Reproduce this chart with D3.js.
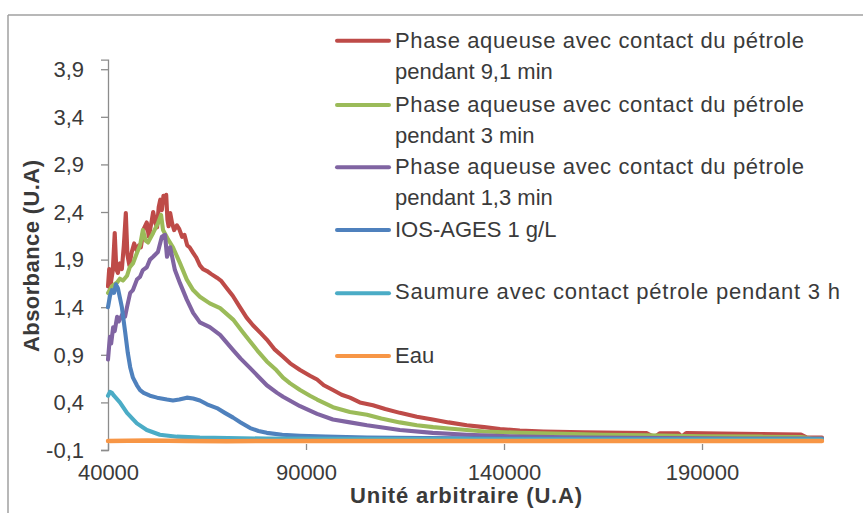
<!DOCTYPE html>
<html><head><meta charset="utf-8">
<script src="https://cdn.jsdelivr.net/npm/d3@7"></script>
<style>
html,body{margin:0;padding:0;background:#fff;}
svg{display:block;}
text{font-family:"Liberation Sans",Arial,sans-serif;fill:#3a3a3a;}
</style></head>
<body>
<svg id="chart" width="863" height="513"></svg>
<script>
// ---------- data ----------
const xTicks = [40000, 90000, 140000, 190000];
const yTicks = [-0.1, 0.4, 0.9, 1.4, 1.9, 2.4, 2.9, 3.4, 3.9];

const seriesNames = [
  ["Phase aqueuse avec contact du pétrole", "pendant 9,1 min"],
  ["Phase aqueuse avec contact du pétrole", "pendant 3 min"],
  ["Phase aqueuse avec contact du pétrole", "pendant 1,3 min"],
  ["IOS-AGES 1 g/L"],
  ["Saumure avec contact pétrole pendant 3 h"],
  ["Eau"]
];
const seriesColors = ["#BE4B48", "#9BBB59", "#8064A2", "#4F81BD", "#4BACC6", "#F79646"];

const phase91 = [[40000,1.62],[40300,1.80],[40700,1.65],[41200,1.78],[41700,2.18],[42100,1.80],[42500,1.76],[43000,1.86],[43500,1.80],[44000,2.05],[44500,2.39],[44900,1.95],[45400,1.84],[46000,1.98],[46600,2.07],[47200,2.00],[47800,2.05],[48300,2.03],[49000,2.22],[49800,2.29],[50300,2.14],[51000,2.30],[51400,2.40],[52000,2.28],[52400,2.24],[52800,2.45],[53200,2.53],[53600,2.42],[54000,2.57],[54400,2.50],[54700,2.58],[55000,2.32],[55300,2.25],[55700,2.39],[56200,2.28],[56700,2.21],[57400,2.26],[58000,2.22],[58700,2.14],[59300,2.16],[60000,2.05],[60600,2.03],[61500,1.97],[62300,1.92],[63200,1.84],[64000,1.80],[65000,1.78],[66000,1.75],[67500,1.71],[68500,1.68],[70000,1.60],[71500,1.52],[73300,1.40],[75000,1.29],[76600,1.21],[78500,1.13],[80100,1.06],[82000,0.96],[84200,0.88],[86000,0.81],[88500,0.74],[91000,0.68],[92800,0.64],[94500,0.58],[96800,0.53],[99000,0.48],[101100,0.45],[103600,0.40],[106900,0.37],[110000,0.33],[113700,0.29],[118000,0.25],[122000,0.22],[126000,0.19],[130600,0.16],[135000,0.14],[139000,0.12],[144000,0.105],[150000,0.095],[160000,0.085],[170000,0.08],[176000,0.078],[177300,0.05],[178200,0.04],[179300,0.075],[184000,0.075],[184900,0.04],[186000,0.078],[195000,0.072],[205000,0.067],[215000,0.062],[216500,0.03],[220300,0.03]];

const phase3 = [[40000,1.55],[41000,1.62],[42300,1.66],[43000,1.70],[43800,1.68],[44800,1.73],[45500,1.82],[46300,1.86],[47300,1.97],[48100,2.05],[48800,2.21],[49500,2.10],[50100,2.08],[51400,2.18],[52600,2.28],[53400,2.37],[53900,2.21],[55200,2.11],[56400,2.03],[58200,1.86],[59900,1.69],[61500,1.58],[63200,1.51],[65700,1.44],[68300,1.39],[71600,1.27],[74000,1.14],[75900,1.04],[78000,0.93],[80100,0.83],[82500,0.74],[84200,0.66],[86000,0.60],[88500,0.53],[91000,0.47],[92800,0.43],[96800,0.35],[101100,0.30],[105400,0.27],[109000,0.23],[113700,0.19],[118000,0.16],[122100,0.14],[126000,0.125],[130600,0.11],[135000,0.095],[144000,0.08],[155000,0.07],[165000,0.06],[176000,0.055],[190000,0.045],[205000,0.04],[215000,0.035],[218000,0.02],[220300,0.02]];

const phase13 = [[40000,0.85],[40300,1.00],[40500,1.09],[40800,1.02],[41300,1.19],[41700,1.15],[42300,1.30],[42700,1.25],[43800,1.34],[44300,1.30],[44800,1.40],[45600,1.55],[46300,1.58],[47300,1.69],[48100,1.72],[48800,1.79],[49800,1.82],[50600,1.90],[51400,1.93],[52600,1.98],[53600,2.14],[54400,2.16],[54900,1.93],[55700,2.03],[56900,1.79],[58200,1.65],[59900,1.48],[61500,1.34],[63200,1.24],[65700,1.19],[68300,1.11],[71600,0.95],[73500,0.86],[75900,0.76],[78000,0.67],[80100,0.58],[82700,0.50],[84200,0.46],[88500,0.36],[92800,0.28],[96800,0.22],[101100,0.19],[105400,0.16],[113700,0.11],[122000,0.08],[130600,0.06],[144000,0.04],[160000,0.03],[180000,0.025],[200000,0.02],[220300,0.02]];

const iosAges = [[40000,1.40],[40500,1.52],[41000,1.58],[41500,1.55],[42000,1.64],[42500,1.60],[43000,1.50],[43500,1.40],[44300,1.15],[45000,0.92],[45600,0.77],[46300,0.66],[47300,0.58],[48100,0.53],[49000,0.50],[50600,0.47],[52400,0.45],[54900,0.43],[56400,0.42],[58000,0.43],[59900,0.45],[61500,0.44],[63200,0.42],[65000,0.38],[67500,0.34],[69500,0.29],[71600,0.24],[73500,0.19],[75900,0.13],[78000,0.10],[80100,0.08],[84000,0.06],[88500,0.05],[95000,0.04],[105400,0.03],[120000,0.025],[150000,0.02],[190000,0.015],[220300,0.015]];

const saumure = [[40000,0.47],[40500,0.51],[41000,0.50],[41500,0.47],[43000,0.40],[44800,0.29],[47300,0.18],[49800,0.11],[53100,0.06],[57400,0.04],[63200,0.03],[80000,0.02],[120000,0.015],[170000,0.01],[220300,0.01]];

const eau = [[40000,-0.005],[50000,0.0],[60000,-0.005],[70000,-0.008],[80000,-0.005],[100000,-0.006],[120000,-0.005],[140000,-0.006],[160000,-0.005],[180000,-0.006],[200000,-0.005],[220300,-0.005]];

const seriesData = [phase91, phase3, phase13, iosAges, saumure, eau];

// ---------- layout ----------
const svg = d3.select("#chart");
const x = d3.scaleLinear().domain([40000, 220300]).range([108, 822]);
const y = d3.scaleLinear().domain([-0.1, 4.0]).range([450, 59.7]);
const loc = d3.formatLocale({decimal: ",", thousands: "", grouping: [3], currency: ["", ""], minus: "-"});
const fmtY = loc.format(".1f");
const fmtX = loc.format("d");

// chart frame (top + left visible)
svg.append("line").attr("x1", 8).attr("x2", 863).attr("y1", 15).attr("y2", 15)
  .attr("stroke", "#A0A0A0").attr("stroke-width", 1.5);
svg.append("line").attr("x1", 8).attr("x2", 8).attr("y1", 15).attr("y2", 513)
  .attr("stroke", "#A0A0A0").attr("stroke-width", 1.5);

// y axis
const yAxis = svg.append("g").attr("transform", "translate(108,0)")
  .call(d3.axisLeft(y).tickValues(yTicks).tickFormat(fmtY).tickSize(7).tickPadding(17));
yAxis.select(".domain").attr("stroke", "#8C8C8C").attr("stroke-width", 1.3);
yAxis.selectAll(".tick line").attr("stroke", "#8C8C8C").attr("stroke-width", 1.3);
yAxis.selectAll(".tick text").attr("font-size", 22).attr("fill", "#3a3a3a")
  .attr("font-family", '"Liberation Sans",Arial,sans-serif').attr("dy", "0.33em");

// x axis (ticks only, no line)
const xAxis = svg.append("g").attr("transform", "translate(0,450)")
  .call(d3.axisBottom(x).tickValues(xTicks).tickFormat(fmtX).tickSizeInner(-6).tickSizeOuter(0).tickPadding(14));
xAxis.select(".domain").remove();
xAxis.selectAll(".tick line").attr("stroke", "#8C8C8C").attr("stroke-width", 1.3);
xAxis.selectAll(".tick text").attr("font-size", 22).attr("fill", "#3a3a3a")
  .attr("font-family", '"Liberation Sans",Arial,sans-serif').attr("dy", "0.72em");

// axis titles
svg.append("text").attr("x", 466).attr("y", 503).attr("text-anchor", "middle")
  .attr("font-size", 22).attr("font-weight", "bold").attr("textLength", 232).attr("lengthAdjust", "spacing")
  .text("Unité arbitraire (U.A)");
svg.append("text").attr("transform", "translate(39,256) rotate(-90)").attr("text-anchor", "middle")
  .attr("font-size", 22).attr("font-weight", "bold").attr("textLength", 192).attr("lengthAdjust", "spacing")
  .text("Absorbance (U.A)");

// series
const line = d3.line().x(d => x(d[0])).y(d => y(d[1]));
const plot = svg.append("g");
seriesData.forEach((data, i) => {
  plot.append("path").datum(data).attr("d", line)
    .attr("fill", "none").attr("stroke", seriesColors[i])
    .attr("stroke-width", i === 5 ? 4.4 : 4.1).attr("stroke-linejoin", "round").attr("stroke-linecap", "round");
});

// legend
const legendLineY = [40.7, 105, 167.3, 230, 293.3, 356];
const legendBase = [[48.3, 79.3], [111.7, 142.7], [174, 205], [236.7], [299.3], [362.7]];
const legendWidths = {"Phase aqueuse avec contact du pétrole": 409, "Saumure avec contact pétrole pendant 3 h": 445};
const lg = svg.append("g");
seriesNames.forEach((lines, i) => {
  lg.append("line").attr("x1", 337).attr("x2", 389)
    .attr("y1", legendLineY[i]).attr("y2", legendLineY[i])
    .attr("stroke", seriesColors[i]).attr("stroke-width", 4).attr("stroke-linecap", "round");
  lines.forEach((t, j) => {
    const tx = lg.append("text").attr("x", 395).attr("y", legendBase[i][j])
      .attr("font-size", 22).text(t);
    if (legendWidths[t]) tx.attr("textLength", legendWidths[t]).attr("lengthAdjust", "spacing");
  });
});
</script>
</body></html>
